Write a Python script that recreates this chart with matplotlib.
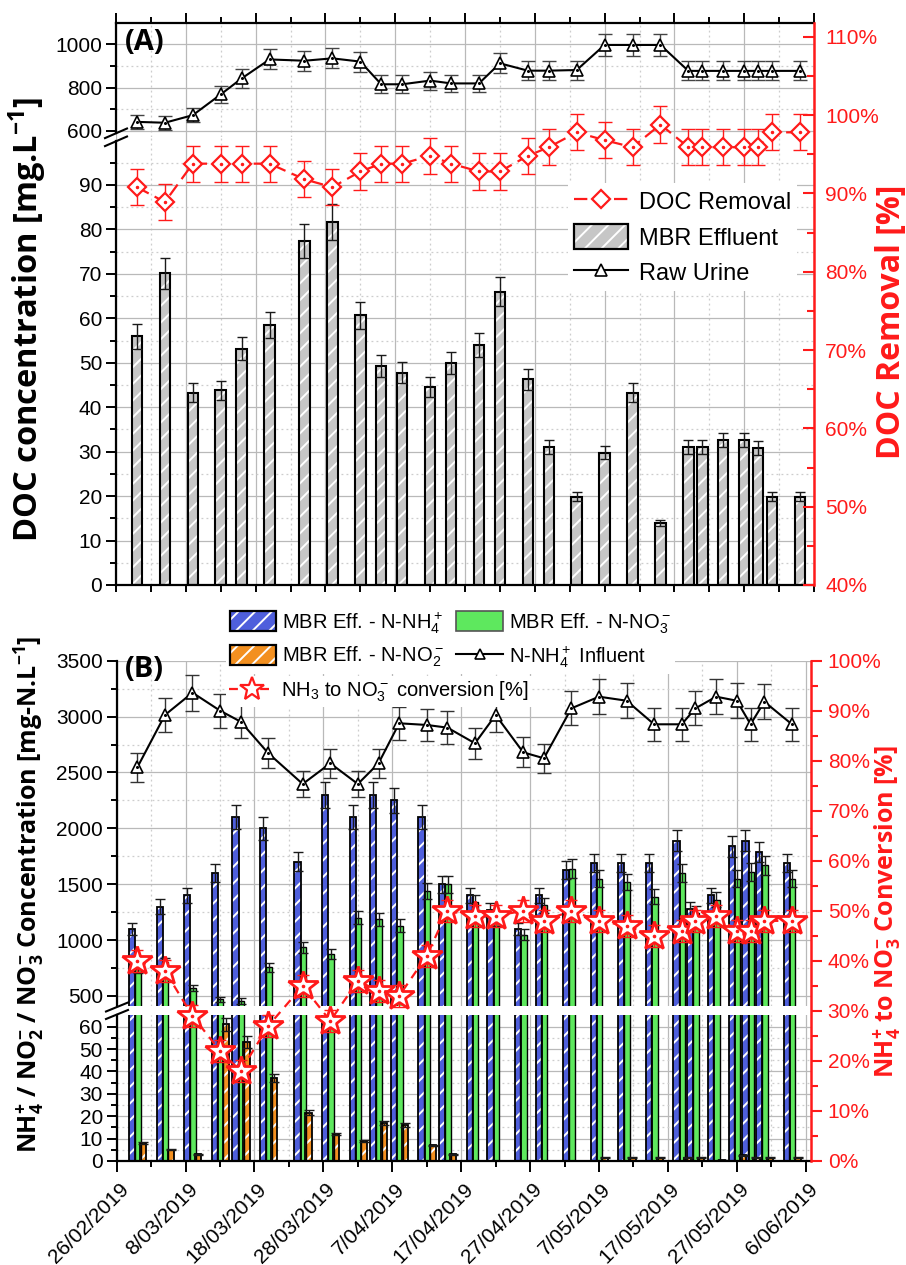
import datetime as dt
import numpy as np
import matplotlib
matplotlib.use("Agg")
import matplotlib.pyplot as plt
import matplotlib.dates as mdates
import matplotlib.transforms as mtransforms
from matplotlib.patches import Patch
from matplotlib.lines import Line2D
from matplotlib.legend_handler import HandlerTuple
from matplotlib.ticker import FixedLocator, FuncFormatter

# ---------------- data ----------------
dates = ["2019-03-01", "2019-03-05", "2019-03-09", "2019-03-13", "2019-03-16", "2019-03-20",
         "2019-03-25", "2019-03-29", "2019-04-02", "2019-04-05", "2019-04-08", "2019-04-12",
         "2019-04-15", "2019-04-19", "2019-04-22", "2019-04-26", "2019-04-29", "2019-05-03",
         "2019-05-07", "2019-05-11", "2019-05-15", "2019-05-19", "2019-05-21", "2019-05-24",
         "2019-05-27", "2019-05-29", "2019-05-31", "2019-06-04"]

# Panel A
raw_urine_doc = [641, 637, 672, 768, 842, 930, 924, 935, 920, 815, 815, 832, 819, 819,
                 912, 878, 878, 881, 997, 997, 997, 877, 877, 877, 877, 877, 877, 877]
mbr_effluent_doc = [56.0, 70.1, 43.3, 43.8, 53.2, 58.6, 77.4, 81.7, 60.7, 49.2, 47.8, 44.6,
                    49.9, 53.9, 66.0, 46.3, 31.1, 19.9, 29.8, 43.3, 14.0, 31.1, 31.1, 32.6,
                    32.6, 30.8, 19.9, 19.9]
doc_removal = [90.8, 88.9, 93.8, 93.8, 93.8, 93.8, 91.8, 90.8, 92.8, 93.8, 93.8, 94.8, 93.8,
               92.8, 92.8, 94.8, 95.9, 97.8, 96.8, 95.9, 98.8, 95.9, 95.9, 95.9, 95.9, 95.9,
               97.8, 97.8]

# Panel B
nh4_eff = [1100, 1300, 1400, 1600, 2100, 2000, 1700, 2300, 2100, 2300, 2250, 2100, 1500, 1400,
           1270, 1100, 1400, 1630, 1690, 1690, 1690, 1890, 1280, 1400, 1840, 1890, 1790, 1690]
no3_eff = [740, 800, 570, 470, 455, 755, 935, 878, 1200, 1185, 1130, 1440, 1500, 1340,
           1190, 1050, 1310, 1640, 1550, 1520, 1390, 1600, 1240, 1360, 1550, 1610, 1670, 1550]
no2_eff = [8, 5, 3, 61, 53, 37, 21.5, 12, 9, 17, 16, 7, 3, 0, 0, 0, 0, 0, 1.5, 1.5, 1.5, 1.5,
           1.5, 0.3, 2.5, 1.5, 1.5, 1.5]
nh4_influent = [2546, 3014, 3214, 3053, 2954, 2672, 2397, 2582, 2397, 2582, 2940, 2925, 2901,
                2761, 3014, 2680, 2627, 3074, 3178, 3142, 2931, 2931, 3074, 3178, 3142, 2931,
                3133, 2931]
conversion = [40, 38, 29, 22, 18, 27, 35, 28, 36, 34, 33, 41, 50, 49, 49, 50, 48, 50, 48, 47,
              45, 46, 48, 49, 46, 46, 48, 48]

# ---------------- style ----------------
plt.rcParams.update({
    'font.family': ['Liberation Sans', 'DejaVu Sans'],
    'mathtext.fontset': 'custom',
    'mathtext.rm': 'Liberation Sans',
    'mathtext.it': 'Liberation Sans:italic',
    'mathtext.bf': 'Open Sans:bold',
    'hatch.linewidth': 1.4,
    'axes.linewidth': 1.6,
})

W, H = 906, 1265
fig = plt.figure(figsize=(W / 100, H / 100), dpi=100)


def rect(x0, y0, x1, y1):
    return [x0 / W, 1 - y1 / H, (x1 - x0) / W, (y1 - y0) / H]


def fx(p):
    return p / W


def fy(p):
    return 1 - p / H


x = mdates.date2num([dt.date.fromisoformat(d) for d in dates])
t0 = mdates.date2num(dt.date(2019, 2, 26))
majors = [t0 + 10 * k for k in range(11)]
minors = [t0 + 5 + 10 * k for k in range(10)]

GRID_MAJ = dict(color='#b9b9b9', lw=0.9, ls='-')
GRID_MIN = dict(color='#cdcdcd', lw=0.9, ls=(0, (1.5, 2.5)))
RED = '#ff1a1a'


def date_fmt(v, pos=None):
    d = mdates.num2date(v)
    return f"{d.day}/{d.month:02d}/{d.year}"


def base_axes(ax, xlim):
    ax.set_xlim(*xlim)
    ax.set_facecolor('none')
    ax.xaxis.set_major_locator(FixedLocator(majors))
    ax.xaxis.set_minor_locator(FixedLocator(minors))
    ax.grid(which='major', **GRID_MAJ)
    ax.grid(which='minor', **GRID_MIN)
    ax.set_axisbelow(True)
    ax.spines['right'].set_visible(False)
    ax.tick_params(which='both', direction='out', width=1.4, labelsize=15, pad=3)
    ax.tick_params(which='major', length=7)
    ax.tick_params(which='minor', length=4)


def hatched_bar(ax, xs, vals, width, color, hatch, elw=1.5, z=2):
    vals = np.asarray(vals, float)
    if hatch:
        ax.bar(xs, vals, width=width, color=color, edgecolor='white', lw=0, hatch=hatch, zorder=z)
    else:
        ax.bar(xs, vals, width=width, color=color, lw=0, zorder=z)
    ax.bar(xs, vals, width=width, fill=False, edgecolor='black', lw=elw, zorder=z + 0.1)
    ax.errorbar(xs, vals, yerr=0.05 * vals, fmt='none', ecolor='#1a1a1a', elinewidth=1.0,
                capsize=3.5, capthick=1.0, zorder=z + 0.2)


# ================= Panel A =================
xlimA = (t0, t0 + 100)
axAt = fig.add_axes(rect(116, 22.7, 814, 137), zorder=1)
axAb = fig.add_axes(rect(116, 137, 814, 585), zorder=1)
axAr = fig.add_axes(rect(116, 22.7, 814, 585), zorder=3)

base_axes(axAt, xlimA)
axAt.set_ylim(571, 1100)
axAt.yaxis.set_major_locator(FixedLocator([600, 800, 1000]))
axAt.yaxis.set_minor_locator(FixedLocator([700, 900]))
axAt.spines['bottom'].set_visible(False)
axAt.spines['left'].set_bounds(589, 1100)
axAt.tick_params(axis='x', which='both', top=True, bottom=False, labeltop=False, labelbottom=False)
axAt.tick_params(axis='x', which='major', length=7)

base_axes(axAb, xlimA)
axAb.set_ylim(0, 100.8)
axAb.yaxis.set_major_locator(FixedLocator(list(range(0, 100, 10))))
axAb.yaxis.set_minor_locator(FixedLocator(list(range(5, 100, 10))))
axAb.spines['top'].set_visible(False)
axAb.spines['left'].set_bounds(0, 99.9)
axAb.tick_params(axis='x', which='both', labelbottom=False, length=5)

# bars: MBR effluent DOC
hatched_bar(axAb, x, mbr_effluent_doc, 1.5, '#c6c6c6', '//')

# raw urine
ru = np.asarray(raw_urine_doc, float)
axAt.errorbar(x, ru, yerr=0.05 * ru, fmt='none', ecolor='#444444', elinewidth=1.0, capsize=5,
              capthick=1.0, zorder=3)
axAt.plot(x, ru, '-', color='black', lw=1.5, marker='^', ms=8, mfc='white', mec='black',
          mew=1.2, zorder=4)
axAt.plot(x, ru, 'o', ms=1.2, color='black', zorder=5)

# overlay for DOC removal
axAr.set_xlim(*xlimA)
axAr.set_ylim(40, 111.8)
axAr.patch.set_visible(False)
for s in ('left', 'top', 'bottom'):
    axAr.spines[s].set_visible(False)
axAr.spines['right'].set_color(RED)
axAr.spines['right'].set_linewidth(1.8)
axAr.set_xticks([])
axAr.yaxis.tick_right()
axAr.yaxis.set_major_locator(FixedLocator(list(range(40, 111, 10))))
axAr.yaxis.set_minor_locator(FixedLocator(list(range(45, 106, 10))))
axAr.yaxis.set_major_formatter(FuncFormatter(lambda v, p: f"{v:.0f}%"))
axAr.tick_params(axis='y', which='both', direction='in', colors=RED, labelcolor=RED,
                 labelsize=15, width=1.5, pad=8)
axAr.tick_params(axis='y', which='major', length=8)
axAr.tick_params(axis='y', which='minor', length=5)

dr = np.asarray(doc_removal, float)
axAr.errorbar(x, dr, yerr=2.3, fmt='none', ecolor=RED, elinewidth=1.0, capsize=5, capthick=1.0,
              zorder=3)
axAr.plot(x, dr, ls=(0, (6, 3)), color=RED, lw=1.6, marker='D', ms=9.5, mfc='white', mec=RED,
          mew=1.6, zorder=4)
axAr.plot(x, dr, 'o', ms=1.5, color=RED, zorder=5)

hA1 = Line2D([], [], ls=(0, (6, 3)), color=RED, lw=1.6, marker='D', ms=9.5, mfc='white',
             mec=RED, mew=1.6)
hA2 = (Patch(facecolor='#c6c6c6', edgecolor='white', hatch='//', lw=0),
       Patch(fill=False, edgecolor='black', lw=1.6))
hA3 = Line2D([], [], color='black', lw=1.5, marker='^', ms=8, mfc='white', mec='black', mew=1.2)
legA = fig.legend([hA1, hA2, hA3], ['DOC Removal', 'MBR Effluent', 'Raw Urine'],
                  handler_map={tuple: HandlerTuple(ndivide=1, pad=0)},
                  loc='upper left', bbox_to_anchor=(fx(568), fy(183)), fontsize=17,
                  frameon=True, fancybox=False, handlelength=2.3, handleheight=1.25,
                  handletextpad=0.45, borderpad=0.25, labelspacing=0.42, borderaxespad=0)
legA.get_frame().set_facecolor('white')
legA.get_frame().set_edgecolor('none')
legA.get_frame().set_alpha(1)
legA.set_zorder(10)

# break marks A
for yy in (133.3, 141.3):
    fig.add_artist(Line2D([fx(105), fx(127)], [fy(yy + 4.8), fy(yy - 4.8)], color='black',
                          lw=1.5))

fig.text(fx(125), fy(42), '(A)', fontsize=21, fontweight='bold', family='Open Sans',
         ha='left', va='center', zorder=12)
fig.text(fx(28), fy(320), r'DOC concentration [mg.L$^{\mathbf{-1}}$]', rotation=90,
         fontsize=23.5, fontweight='bold', family='Open Sans', ha='center', va='center')
fig.text(fx(892), fy(322), 'DOC Removal [%]', rotation=90, color=RED, fontsize=23,
         fontweight='bold', family='Open Sans', ha='center', va='center')

# ================= Panel B =================
xlimB = (t0, t0 + 100.77)
axBt = fig.add_axes(rect(116.7, 660.7, 811, 1006), zorder=1)
axBb = fig.add_axes(rect(116.7, 1015, 811, 1161), zorder=1)
axBr = fig.add_axes(rect(116.7, 660.7, 811, 1161), zorder=3)

base_axes(axBt, xlimB)
axBt.set_ylim(410.5, 3500)
axBt.yaxis.set_major_locator(FixedLocator(list(range(500, 3501, 500))))
axBt.yaxis.set_minor_locator(FixedLocator(list(range(750, 3300, 500))))
axBt.spines['top'].set_visible(False)
axBt.spines['bottom'].set_visible(False)
axBt.tick_params(axis='x', which='both', length=0, labelbottom=False)

base_axes(axBb, xlimB)
axBb.set_ylim(0, 65.2)
axBb.yaxis.set_major_locator(FixedLocator(list(range(0, 61, 10))))
axBb.yaxis.set_minor_locator(FixedLocator(list(range(5, 60, 10))))
axBb.spines['top'].set_visible(False)
axBb.xaxis.set_major_formatter(FuncFormatter(date_fmt))
axBb.tick_params(axis='x', which='major', length=8, pad=10, labelsize=15)
axBb.tick_params(axis='x', which='minor', length=4)
shift = mtransforms.ScaledTranslation(9 / 100, 0, fig.dpi_scale_trans)
for lab in axBb.get_xticklabels():
    lab.set_rotation(45)
    lab.set_ha('right')
    lab.set_va('center')
    lab.set_rotation_mode('anchor')
    lab.set_transform(lab.get_transform() + shift)

BLUE = '#4f5fdc'
GREEN = '#5ee85e'
ORANGE = '#f39020'
for ax in (axBt, axBb):
    hatched_bar(ax, x - 0.75, nh4_eff, 0.9, BLUE, '//', elw=1.3)
    hatched_bar(ax, x + 0.05, no3_eff, 0.9, GREEN, None, elw=1.0)
    hatched_bar(ax, x + 0.85, no2_eff, 0.9, ORANGE, '//', elw=1.3)

inf = np.asarray(nh4_influent, float)
axBt.errorbar(x, inf, yerr=0.05 * inf, fmt='none', ecolor='#333333', elinewidth=1.0, capsize=5,
              capthick=1.0, zorder=5)
axBt.plot(x, inf, '-', color='black', lw=1.5, marker='^', ms=8, mfc='white', mec='black',
          mew=1.2, zorder=6)
axBt.plot(x, inf, 'o', ms=1.2, color='black', zorder=7)

axBr.set_xlim(*xlimB)
axBr.set_ylim(0, 100)
axBr.patch.set_visible(False)
for s in ('left', 'top', 'bottom'):
    axBr.spines[s].set_visible(False)
axBr.spines['right'].set_color(RED)
axBr.spines['right'].set_linewidth(1.8)
axBr.set_xticks([])
axBr.yaxis.tick_right()
axBr.yaxis.set_major_locator(FixedLocator(list(range(0, 101, 10))))
axBr.yaxis.set_minor_locator(FixedLocator(list(range(5, 100, 10))))
axBr.yaxis.set_major_formatter(FuncFormatter(lambda v, p: f"{v:.0f}%"))
axBr.tick_params(axis='y', which='both', direction='out', colors=RED, labelcolor=RED,
                 labelsize=15, width=1.5, pad=4)
axBr.tick_params(axis='y', which='major', length=8)
axBr.tick_params(axis='y', which='minor', length=5)

cv = np.asarray(conversion, float)
axBr.errorbar(x, cv, yerr=2.2, fmt='none', ecolor=RED, elinewidth=1.0, capsize=4, capthick=1.0,
              zorder=3)
axBr.plot(x, cv, ls=(0, (4, 3)), color=RED, lw=1.6, marker='*', ms=22, mfc='white', mec=RED,
          mew=2.0, zorder=4)
axBr.plot(x, cv, 'o', ms=1.6, color=RED, zorder=5)

hB_nh4 = (Patch(facecolor=BLUE, edgecolor='white', hatch='//', lw=0),
          Patch(fill=False, edgecolor='black', lw=1.6))
hB_no2 = (Patch(facecolor=ORANGE, edgecolor='white', hatch='//', lw=0),
          Patch(fill=False, edgecolor='black', lw=1.6))
hB_no3 = Patch(facecolor=GREEN, edgecolor='#555555', lw=1.2)
hB_inf = Line2D([], [], color='black', lw=1.5, marker='^', ms=7, mfc='white', mec='black', mew=1.2)
hB_cv = Line2D([], [], ls=(0, (4, 3)), color=RED, lw=1.6, marker='*', ms=18, mfc='white', mec=RED,
               mew=1.6)
legB1 = fig.legend([hB_nh4, hB_no2, hB_no3, hB_inf],
                   [r'MBR Eff. - N-NH$_4^+$', r'MBR Eff. - N-NO$_2^-$', r'MBR Eff. - N-NO$_3^-$',
                    r'N-NH$_4^+$ Influent'],
                   handler_map={tuple: HandlerTuple(ndivide=1, pad=0)}, ncol=2,
                   loc='upper left', bbox_to_anchor=(fx(226), fy(606)), fontsize=14.5,
                   frameon=True, fancybox=False, handlelength=2.3, handleheight=1.15,
                   handletextpad=0.3, borderpad=0.2, labelspacing=0.45, columnspacing=0.6,
                   borderaxespad=0)
legB2 = fig.legend([hB_cv], [r'NH$_3$ to NO$_3^-$ conversion [%]'],
                   loc='upper left', bbox_to_anchor=(fx(226), fy(676)), fontsize=14.5,
                   frameon=True, fancybox=False, handlelength=2.3, handletextpad=0.3,
                   borderpad=0.15, borderaxespad=0)
for lg in (legB1, legB2):
    lg.get_frame().set_facecolor('white')
    lg.get_frame().set_edgecolor('none')
    lg.get_frame().set_alpha(1)
    lg.set_zorder(10)

for yy in (1007.0, 1014.5):
    fig.add_artist(Line2D([fx(106), fx(128)], [fy(yy + 4.5), fy(yy - 4.5)], color='black',
                          lw=1.5))

fig.text(fx(125), fy(669), '(B)', fontsize=21, fontweight='bold', family='Open Sans',
         ha='left', va='center', zorder=12)
fig.text(fx(30), fy(894),
         r'NH$_\mathbf{4}^\mathbf{+}$ / NO$_\mathbf{2}^\mathbf{-}$ / NO$_\mathbf{3}^\mathbf{-}$'
         r' Concentration [mg-N.L$^{\mathbf{-1}}$]',
         rotation=90, fontsize=18, fontweight='bold', family='Open Sans', ha='center',
         va='center')
fig.text(fx(888), fy(912),
         r'NH$_\mathbf{4}^\mathbf{+}$ to NO$_\mathbf{3}^\mathbf{-}$ Conversion [%]',
         rotation=90, color=RED, fontsize=18, fontweight='bold', family='Open Sans',
         ha='center', va='center')

fig.savefig('out.png', dpi=100)
